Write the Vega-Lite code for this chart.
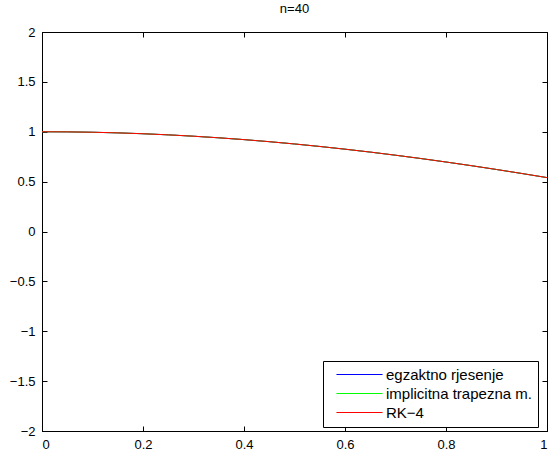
{
  "$schema": "https://vega.github.io/schema/vega-lite/v6.json",
  "width": 505,
  "height": 399,
  "autosize": "none",
  "padding": {"left": 42, "top": 32, "right": 2, "bottom": 19},
  "background": "white",
  "title": {"text": "n=40", "fontSize": 13, "fontWeight": "normal", "font": "Liberation Sans", "color": "#000", "offset": 6, "dy": -4},
  "config": {
    "view": {"stroke": "black", "strokeWidth": 1},
    "axis": {"grid": false, "domainColor": "black", "tickColor": "black", "labelColor": "black", "labelFont": "Liberation Sans", "labelFontSize": 13, "title": null, "tickSize": -5}
  },
  "datasets": {
    "pts": [
      {"x": 0, "exact": 1, "trap": 1, "rk4": 1},
      {"x": 0.05, "exact": 0.99875, "trap": 0.99875, "rk4": 0.99875},
      {"x": 0.1, "exact": 0.995, "trap": 0.995, "rk4": 0.995},
      {"x": 0.15, "exact": 0.98877, "trap": 0.98877, "rk4": 0.98877},
      {"x": 0.2, "exact": 0.98007, "trap": 0.98007, "rk4": 0.98007},
      {"x": 0.25, "exact": 0.96891, "trap": 0.96891, "rk4": 0.96891},
      {"x": 0.3, "exact": 0.95534, "trap": 0.95534, "rk4": 0.95534},
      {"x": 0.35, "exact": 0.93937, "trap": 0.93937, "rk4": 0.93937},
      {"x": 0.4, "exact": 0.92106, "trap": 0.92106, "rk4": 0.92106},
      {"x": 0.45, "exact": 0.90045, "trap": 0.90045, "rk4": 0.90045},
      {"x": 0.5, "exact": 0.87758, "trap": 0.87758, "rk4": 0.87758},
      {"x": 0.55, "exact": 0.85252, "trap": 0.85252, "rk4": 0.85252},
      {"x": 0.6, "exact": 0.82534, "trap": 0.82534, "rk4": 0.82534},
      {"x": 0.65, "exact": 0.79608, "trap": 0.79608, "rk4": 0.79608},
      {"x": 0.7, "exact": 0.76484, "trap": 0.76484, "rk4": 0.76484},
      {"x": 0.75, "exact": 0.73169, "trap": 0.73169, "rk4": 0.73169},
      {"x": 0.8, "exact": 0.69671, "trap": 0.69671, "rk4": 0.69671},
      {"x": 0.85, "exact": 0.65998, "trap": 0.65998, "rk4": 0.65998},
      {"x": 0.9, "exact": 0.62161, "trap": 0.62161, "rk4": 0.62161},
      {"x": 0.95, "exact": 0.58168, "trap": 0.58168, "rk4": 0.58168},
      {"x": 1, "exact": 0.5403, "trap": 0.5403, "rk4": 0.5403}
    ]
  },
  "data": {"name": "pts"},
  "transform": [
    {"fold": ["exact", "trap", "rk4"], "as": ["key", "y"]},
    {"lookup": "key", "from": {"data": {"values": [
      {"key": "exact", "series": "egzaktno rjesenje", "ord": 0},
      {"key": "trap", "series": "implicitna trapezna m.", "ord": 1},
      {"key": "rk4", "series": "RK−4", "ord": 2}
    ]}, "key": "key", "fields": ["series", "ord"]}}
  ],
  "layer": [
    {
      "mark": {"type": "line", "strokeWidth": 1, "clip": true},
      "encoding": {
        "x": {"field": "x", "type": "quantitative", "scale": {"domain": [0, 1], "nice": false, "zero": false}, "axis": {"values": [0, 0.2, 0.4, 0.6, 0.8, 1], "format": "~g", "orient": "bottom", "labelPadding": 12}},
        "y": {"field": "y", "type": "quantitative", "scale": {"domain": [-2, 2], "nice": false, "zero": false}, "axis": {"values": [-2, -1.5, -1, -0.5, 0, 0.5, 1, 1.5, 2], "format": "~g", "orient": "left", "labelPadding": 12}},
        "color": {
          "field": "series", "type": "nominal",
          "scale": {"domain": ["egzaktno rjesenje", "implicitna trapezna m.", "RK−4"], "range": ["#0000ff", "#00ff00", "#ff0000"]},
          "legend": {
            "title": null, "orient": "none", "legendX": 281, "legendY": 329,
            "symbolType": "M-5,0H5", "symbolSize": 85, "symbolStrokeWidth": 1,
            "labelFont": "Liberation Sans", "labelFontSize": 15, "labelColor": "black",
            "strokeColor": "black", "fillColor": "white", "padding": 6,
            "rowPadding": 3, "labelOffset": 19, "symbolOffset": 23
          }
        },
        "order": {"field": "ord"}
      }
    },
    {
      "mark": {"type": "line", "opacity": 0},
      "encoding": {
        "x": {"field": "x", "type": "quantitative", "axis": {"values": [0, 0.2, 0.4, 0.6, 0.8, 1], "orient": "top", "labels": false, "domain": false}},
        "y": {"field": "y", "type": "quantitative", "axis": {"values": [-2, -1.5, -1, -0.5, 0, 0.5, 1, 1.5, 2], "orient": "right", "labels": false, "domain": false}},
        "detail": {"field": "key"}
      }
    }
  ],
  "resolve": {"axis": {"x": "independent", "y": "independent"}}
}
